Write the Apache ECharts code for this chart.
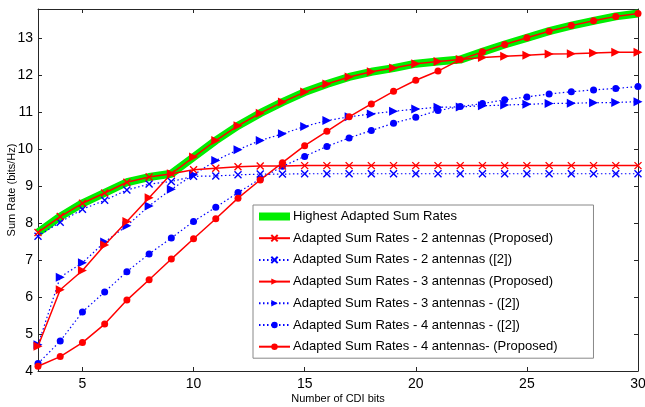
<!DOCTYPE html>
<html>
<head>
<meta charset="utf-8">
<script src="https://cdn.jsdelivr.net/npm/echarts@6/dist/echarts.min.js"></script>
<style>
html, body { margin: 0; padding: 0; background: #fff; }
#chart1 { width: 645px; height: 407px; }
</style>
</head>
<body>
<div id="chart1"></div>
<script>
// number of CDI bits
var bits = [3, 4, 5, 6, 7, 8, 9, 10, 11, 12, 13, 14, 15, 16, 17, 18, 19, 20, 21, 22, 23, 24, 25, 26, 27, 28, 29, 30];

var highest = [7.75, 8.18, 8.54, 8.82, 9.11, 9.25, 9.34, 9.79, 10.24, 10.64, 10.98, 11.28, 11.55, 11.77,
    11.96, 12.1, 12.2, 12.32, 12.38, 12.43, 12.64, 12.84, 13.02, 13.2, 13.35, 13.48, 13.6, 13.68];
var ant2Prop = [7.75, 8.18, 8.54, 8.82, 9.11, 9.25, 9.34, 9.45, 9.49, 9.53, 9.55, 9.55, 9.56, 9.56,
    9.56, 9.56, 9.56, 9.56, 9.56, 9.56, 9.56, 9.56, 9.56, 9.56, 9.56, 9.56, 9.56, 9.56];
var ant2Ref = [7.65, 8.03, 8.38, 8.62, 8.9, 9.06, 9.13, 9.27, 9.28, 9.31, 9.33, 9.33, 9.34, 9.34,
    9.34, 9.34, 9.34, 9.34, 9.34, 9.34, 9.34, 9.34, 9.34, 9.34, 9.34, 9.34, 9.34, 9.34];
var ant3Prop = [4.67, 6.2, 6.72, 7.41, 8.05, 8.69, 9.34, 9.79, 10.24, 10.64, 10.98, 11.28, 11.55, 11.77,
    11.96, 12.1, 12.2, 12.32, 12.38, 12.43, 12.49, 12.52, 12.55, 12.58, 12.59, 12.61, 12.63, 12.63];
var ant3Ref = [4.71, 6.54, 6.93, 7.49, 7.93, 8.47, 8.92, 9.31, 9.7, 9.99, 10.24, 10.42, 10.62, 10.78,
    10.88, 10.96, 11.03, 11.09, 11.14, 11.15, 11.18, 11.2, 11.22, 11.24, 11.25, 11.26, 11.27, 11.29];
var ant4Ref = [4.2, 4.81, 5.6, 6.14, 6.69, 7.17, 7.6, 8.05, 8.43, 8.83, 9.2, 9.54, 9.81, 10.08,
    10.31, 10.51, 10.71, 10.87, 11.05, 11.16, 11.24, 11.34, 11.42, 11.5, 11.56, 11.61, 11.65, 11.7];
var ant4Prop = [4.13, 4.39, 4.77, 5.27, 5.92, 6.47, 7.03, 7.58, 8.12, 8.68, 9.17, 9.64, 10.1, 10.49,
    10.88, 11.23, 11.57, 11.87, 12.12, 12.43, 12.64, 12.84, 13.02, 13.2, 13.35, 13.48, 13.6, 13.68];

var xTicks = [5, 10, 15, 20, 25, 30];
var yTicks = [4, 5, 6, 7, 8, 9, 10, 11, 12, 13];

var names = [
    'Highest Adapted Sum Rates',
    'Adapted Sum Rates - 2 antennas (Proposed)',
    'Adapted Sum Rates - 2 antennas ([2])',
    'Adapted Sum Rates - 3 antennas (Proposed)',
    'Adapted Sum Rates - 3 antennas - ([2])',
    'Adapted Sum Rates - 4 antennas - ([2])',
    'Adapted Sum Rates - 4 antennas- (Proposed)'
];

var crossSym = 'path://M0,0 L10,10 M10,0 L0,10';
var triSym = 'path://M0,0 L10,5 L0,10 Z';

function pairs(ys) {
    return bits.map(function (x, i) {
        return [x, ys[i]];
    });
}

function line(name, ys, color, dotted, symbol, size, width) {
    var isCross = symbol === crossSym;
    return {
        name: name,
        type: 'line',
        data: pairs(ys),
        symbol: symbol,
        symbolSize: size,
        showSymbol: symbol !== 'none',
        lineStyle: {
            color: color,
            width: width,
            type: dotted ? [1.5, 2.5] : 'solid'
        },
        itemStyle: {
            color: isCross ? 'transparent' : color,
            borderColor: color,
            borderWidth: isCross ? 1.4 : 0
        },
        emphasis: { disabled: true },
        animation: false,
        z: dotted ? 3 : 4
    };
}

function xAxisDef(pos, show) {
    return {
        type: 'value',
        position: pos,
        min: 3,
        max: 30,
        name: show ? 'Number of CDI bits' : '',
        nameLocation: 'middle',
        nameGap: 22,
        nameMoveOverlap: false,
        nameTextStyle: { fontFamily: 'Liberation Sans', fontSize: 11, color: '#000' },
        axisLine: { show: true, onZero: false, lineStyle: { color: '#262626', width: 1 } },
        axisTick: { show: true, inside: true, length: 4, customValues: xTicks, lineStyle: { color: '#262626' } },
        axisLabel: {
            show: show,
            customValues: xTicks,
            margin: 6,
            fontFamily: 'Liberation Sans',
            fontSize: 14,
            color: '#000'
        },
        splitLine: { show: false }
    };
}

function yAxisDef(pos, show) {
    return {
        type: 'value',
        position: pos,
        min: 4,
        max: 13.8,
        name: show ? 'Sum Rate (bits/Hz)' : '',
        nameLocation: 'middle',
        nameGap: 21,
        nameMoveOverlap: false,
        nameTextStyle: { fontFamily: 'Liberation Sans', fontSize: 11, color: '#000' },
        axisLine: { show: true, onZero: false, lineStyle: { color: '#262626', width: 1 } },
        axisTick: { show: true, inside: true, length: 4, customValues: yTicks, lineStyle: { color: '#262626' } },
        axisLabel: {
            show: show,
            customValues: yTicks,
            margin: 5,
            fontFamily: 'Liberation Sans',
            fontSize: 14,
            color: '#000'
        },
        splitLine: { show: false }
    };
}

function loadchart1() {
    var mychart = echarts.init(document.getElementById('chart1'));
    var legendData = names.map(function (n, i) {
        if (i === 0) {
            return { name: n, icon: 'rect', itemStyle: { color: '#00ee00' } };
        }
        return { name: n };
    });
    var option = {
        backgroundColor: '#fff',
        animation: false,
        grid: { left: 38, right: 7, top: 9, bottom: 36, outerBoundsMode: 'none', containLabel: false },
        xAxis: [xAxisDef('bottom', true), xAxisDef('top', false)],
        yAxis: [yAxisDef('left', true), yAxisDef('right', false)],
        legend: {
            orient: 'vertical',
            left: 253,
            top: 205,
            padding: [5, 36, 5, 5],
            itemWidth: 31,
            itemHeight: 8,
            itemGap: 8.7,
            backgroundColor: '#fff',
            borderColor: '#888',
            borderWidth: 1,
            borderRadius: 0,
            textStyle: { fontFamily: 'Liberation Sans', fontSize: 13, color: '#000', padding: [0, 0, 0, -2] },
            data: legendData
        },
        series: [
            line(names[0], highest, '#00ee00', false, 'none', 0, 8),
            line(names[1], ant2Prop, '#ff0000', false, crossSym, 7, 1.5),
            line(names[2], ant2Ref, '#0000ff', true, crossSym, 7, 1.2),
            line(names[3], ant3Prop, '#ff0000', false, triSym, 9, 1.5),
            line(names[4], ant3Ref, '#0000ff', true, triSym, 9, 1.2),
            line(names[5], ant4Ref, '#0000ff', true, 'circle', 7, 1.2),
            line(names[6], ant4Prop, '#ff0000', false, 'circle', 7, 1.5)
        ]
    };
    option.series[0].z = 2;
    mychart.setOption(option);
}

loadchart1();
</script>
</body>
</html>
